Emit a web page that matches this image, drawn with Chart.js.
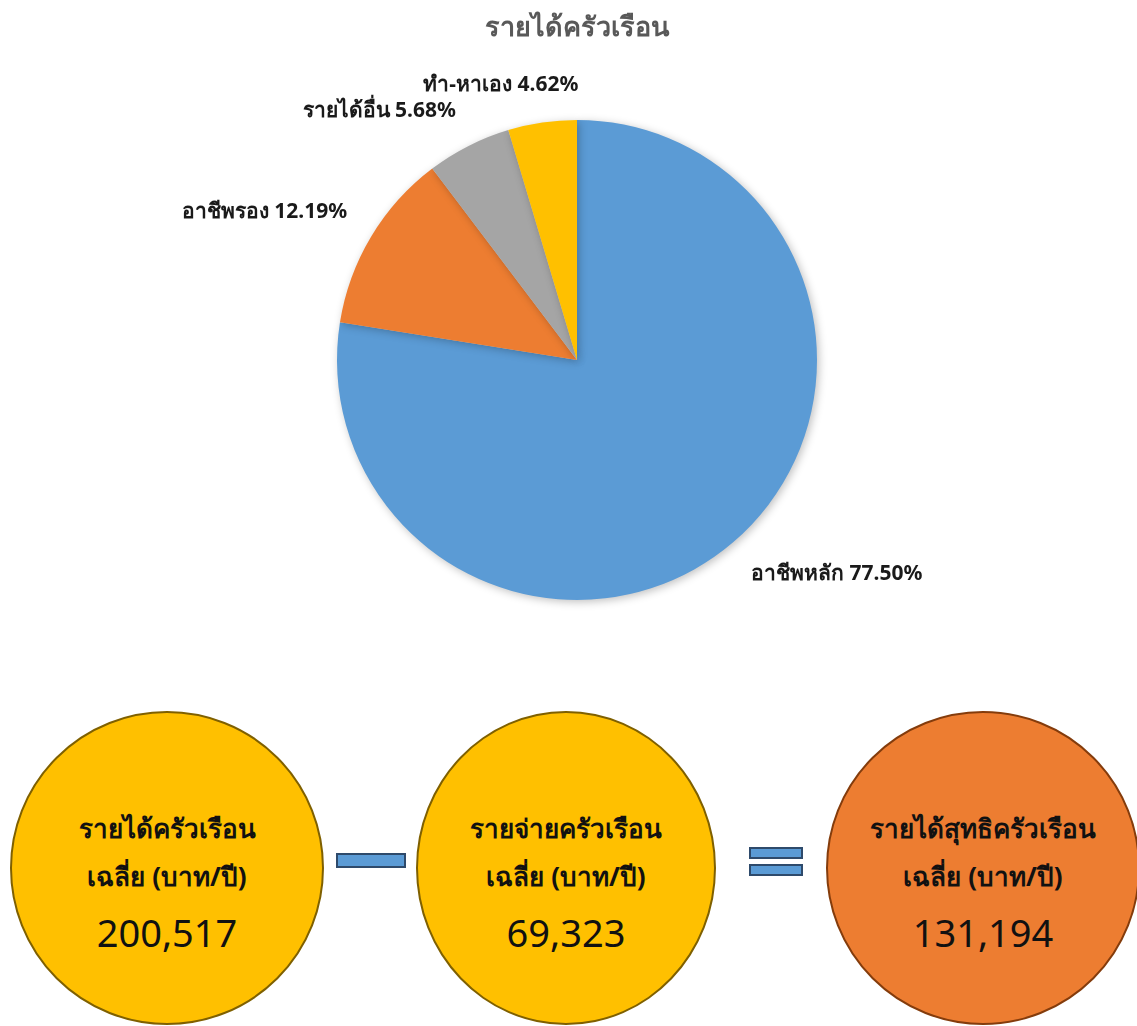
<!DOCTYPE html>
<html>
<head>
<meta charset="utf-8">
<script src="https://cdn.jsdelivr.net/npm/chart.js@4.4.1/dist/chart.umd.min.js"></script>
<style>
    body { margin: 0; background: #fff; font-family: "Noto Sans", Tahoma, sans-serif; }
    #wrap { position: relative; width: 1137px; height: 1026px; overflow: hidden; }
    #pie { position: absolute; left: 0; top: 0; }
    .bubble {
        position: absolute; border-radius: 50%; box-sizing: border-box;
        text-align: center; color: #111;
    }
    .bubble .t1, .bubble .t2 { position: absolute; left: 0; right: 0; font-size: 26px; font-weight: bold; }
    .bubble .num { position: absolute; left: 0; right: 0; font-size: 38px; }
    .sign { position: absolute; background: #5B9BD5; border: 2px solid #2E4A6B; box-sizing: border-box; }
</style>
</head>
<body>
<div id="wrap">
    <canvas id="pie" width="1137" height="700"></canvas>
    <div id="bubbles"></div>
</div>
<script>
/* ========== Pie =============== */

const pieTitle = 'รายได้ครัวเรือน';
const pieLabels = ['อาชีพหลัก', 'อาชีพรอง', 'รายได้อื่น', 'ทำ-หาเอง'];
const pieValues = [77.50, 12.19, 5.68, 4.62];
const pieColors = ['#5B9BD5', '#ED7D31', '#A5A5A5', '#FFC000'];

/* ========== Circles =============== */

const boxTitles = ['รายได้ครัวเรือน', 'รายจ่ายครัวเรือน', 'รายได้สุทธิครัวเรือน'];
const boxUnit = 'เฉลี่ย (บาท/ปี)';
const boxValues = [200517, 69323, 131194];

const labelFont = 'bold 21px "Noto Sans", Tahoma, sans-serif';

// shadow under the pie
const pieShadow = {
    id: 'pieShadow',
    beforeDatasetDraw(chart) {
        const ctx = chart.ctx;
        ctx.save();
        ctx.shadowColor = 'rgba(0,0,0,0.25)';
        ctx.shadowBlur = 8;
        ctx.shadowOffsetX = 2;
        ctx.shadowOffsetY = 2;
    },
    afterDatasetDraw(chart) {
        chart.ctx.restore();
    }
};

// labels outside slices
const outLabels = {
    id: 'outLabels',
    afterDatasetsDraw(chart) {
        const ctx = chart.ctx;
        const arcs = chart.getDatasetMeta(0).data;
        ctx.save();
        ctx.font = labelFont;
        ctx.fillStyle = '#1a1a1a';
        ctx.textAlign = 'center';
        ctx.textBaseline = 'middle';
        arcs.forEach(function (arc, i) {
            const mid = (arc.startAngle + arc.endAngle) / 2;
            const r = arc.outerRadius + 28;
            const ax = arc.x + Math.cos(mid) * r;
            const ay = arc.y + Math.sin(mid) * r;
            const text = pieLabels[i] + ' ' + pieValues[i].toFixed(2) + '%';
            const w = ctx.measureText(text).width;
            const h = 20;
            const kx = Math.max(-1, Math.min(1, Math.cos(mid) / 0.3));
            const ky = Math.max(-1, Math.min(1, Math.sin(mid) / 0.3));
            ctx.fillText(text, ax + kx * w / 2, ay + ky * h / 2);
        });
        ctx.restore();
    }
};

new Chart(document.getElementById('pie'), {
    type: 'pie',
    data: {
        labels: pieLabels,
        datasets: [{
            data: pieValues,
            backgroundColor: pieColors,
            borderWidth: 0
        }]
    },
    options: {
        responsive: false,
        animation: false,
        layout: { padding: { left: 17, bottom: 100 } },
        plugins: {
            legend: { display: false },
            tooltip: { enabled: false },
            title: {
                display: true,
                text: pieTitle,
                color: '#595959',
                font: { size: 27, weight: 'bold', family: '"Noto Sans", Tahoma, sans-serif' },
                padding: { top: 12, bottom: 75.6 }
            }
        }
    },
    plugins: [pieShadow, outLabels]
});

/* ========== Circles (HTML) =============== */

const bubbleBox = document.getElementById('bubbles');
const bubbleX = [10, 416, 826];
const bubbleFill = ['#FFC000', '#FFC000', '#ED7D31'];
const bubbleLine = ['#7F6000', '#7F6000', '#843C0C'];

for (var i = 0; i < boxTitles.length; i++) {
    var b = document.createElement('div');
    b.className = 'bubble';
    b.style.left = bubbleX[i] + 'px';
    b.style.top = '711px';
    b.style.width = (i == 1 ? 300 : 314) + 'px';
    b.style.height = '314px';
    b.style.background = bubbleFill[i];
    b.style.border = '2px solid ' + bubbleLine[i];
    b.innerHTML =
        '<div class="t1" style="top:95px">' + boxTitles[i] + '</div>' +
        '<div class="t2" style="top:143px">' + boxUnit + '</div>' +
        '<div class="num" style="top:193px">' + boxValues[i].toLocaleString('en-US') + '</div>';
    bubbleBox.appendChild(b);
}

var minus = document.createElement('div');
minus.className = 'sign';
minus.style.cssText = 'left:336px;top:853px;width:70px;height:15px;';
bubbleBox.appendChild(minus);

var eq1 = document.createElement('div');
eq1.className = 'sign';
eq1.style.cssText = 'left:749px;top:847px;width:54px;height:12px;';
bubbleBox.appendChild(eq1);

var eq2 = document.createElement('div');
eq2.className = 'sign';
eq2.style.cssText = 'left:749px;top:864px;width:54px;height:12px;';
bubbleBox.appendChild(eq2);
</script>
</body>
</html>
